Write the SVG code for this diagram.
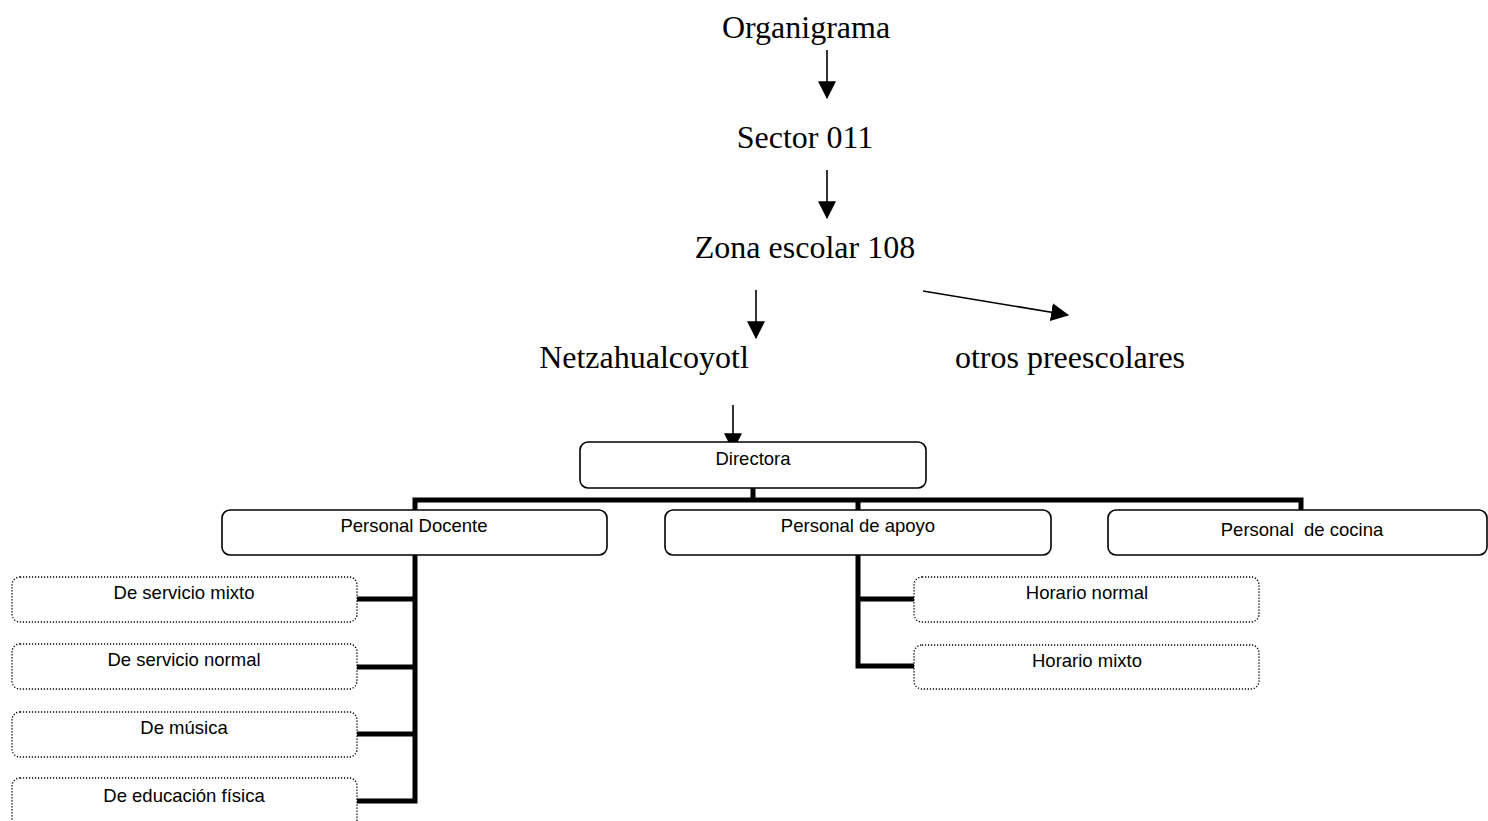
<svg xmlns="http://www.w3.org/2000/svg" width="1488" height="821" viewBox="0 0 1488 821">
<style>
.title{font-family:"Liberation Serif","Times New Roman",serif;font-size:32px;fill:#000;text-anchor:middle}
.lbl{font-family:"Liberation Sans",Arial,sans-serif;font-size:18.5px;fill:#000;text-anchor:middle;white-space:pre}
.box{fill:#fff;stroke:#000;stroke-width:1.6}
.dbox{fill:#fff;stroke:#000;stroke-width:1.4;stroke-dasharray:1.2 1.8}
.arr{stroke:#000;stroke-width:1.6;fill:none;marker-end:url(#ah)}
.bar{stroke:#000;stroke-width:5;fill:none;stroke-linecap:square}
</style>
<defs>
<marker id="ah" markerUnits="userSpaceOnUse" markerWidth="18" markerHeight="18" viewBox="0 0 16 16" refX="15" refY="8" orient="auto">
<path d="M0,0 L16,8 L0,16 Z" fill="#000"/>
</marker>
</defs>
<rect width="1488" height="821" fill="#fff"/>
<g id="connectors">
<line class="arr" x1="827" y1="50" x2="827" y2="98"/>
<line class="arr" x1="827" y1="170" x2="827" y2="218"/>
<line class="arr" x1="756" y1="290" x2="756" y2="338"/>
<line class="arr" x1="923" y1="291" x2="1068" y2="315"/>
<line class="arr" x1="733" y1="405" x2="733" y2="450"/>
<path class="bar" d="M753,488 V500 M415,500 H1301 M415,500 V510 M858,500 V510 M1301,500 V510"/>
<path class="bar" d="M415,555 V801 M357,599 H415 M357,667 H415 M357,734 H415 M357,801 H415"/>
<path class="bar" d="M858,555 V666 M858,599 H914 M858,666 H914"/>
</g>
<g id="n-organigrama"><text class="title" x="806" y="38">Organigrama</text></g>
<g id="n-sector"><text class="title" x="805" y="148">Sector 011</text></g>
<g id="n-zona"><text class="title" x="805" y="258">Zona escolar 108</text></g>
<g id="n-netza"><text class="title" x="644" y="368">Netzahualcoyotl</text></g>
<g id="n-otros"><text class="title" x="1070" y="368">otros preescolares</text></g>
<g id="n-directora"><rect class="box" x="580" y="442" width="346" height="46" rx="8"/><text class="lbl" x="753" y="465">Directora</text></g>
<g id="n-docente"><rect class="box" x="222" y="510" width="385" height="45" rx="8"/><text class="lbl" x="414" y="532">Personal Docente</text></g>
<g id="n-apoyo"><rect class="box" x="665" y="510" width="386" height="45" rx="8"/><text class="lbl" x="858" y="532">Personal de apoyo</text></g>
<g id="n-cocina"><rect class="box" x="1108" y="510" width="379" height="45" rx="8"/><text class="lbl" x="1302" y="536">Personal  de cocina</text></g>
<g id="n-mixto"><rect class="dbox" x="12" y="577" width="345" height="45" rx="8"/><text class="lbl" x="184" y="599">De servicio mixto</text></g>
<g id="n-normal"><rect class="dbox" x="12" y="644" width="345" height="45" rx="8"/><text class="lbl" x="184" y="666">De servicio normal</text></g>
<g id="n-musica"><rect class="dbox" x="12" y="712" width="345" height="45" rx="8"/><text class="lbl" x="184" y="734">De música</text></g>
<g id="n-edfisica"><rect class="dbox" x="12" y="778" width="345" height="60" rx="8"/><text class="lbl" x="184" y="802">De educación física</text></g>
<g id="n-hnormal"><rect class="dbox" x="914" y="577" width="345" height="45" rx="8"/><text class="lbl" x="1087" y="599">Horario normal</text></g>
<g id="n-hmixto"><rect class="dbox" x="914" y="645" width="345" height="44" rx="8"/><text class="lbl" x="1087" y="667">Horario mixto</text></g>
</svg>
